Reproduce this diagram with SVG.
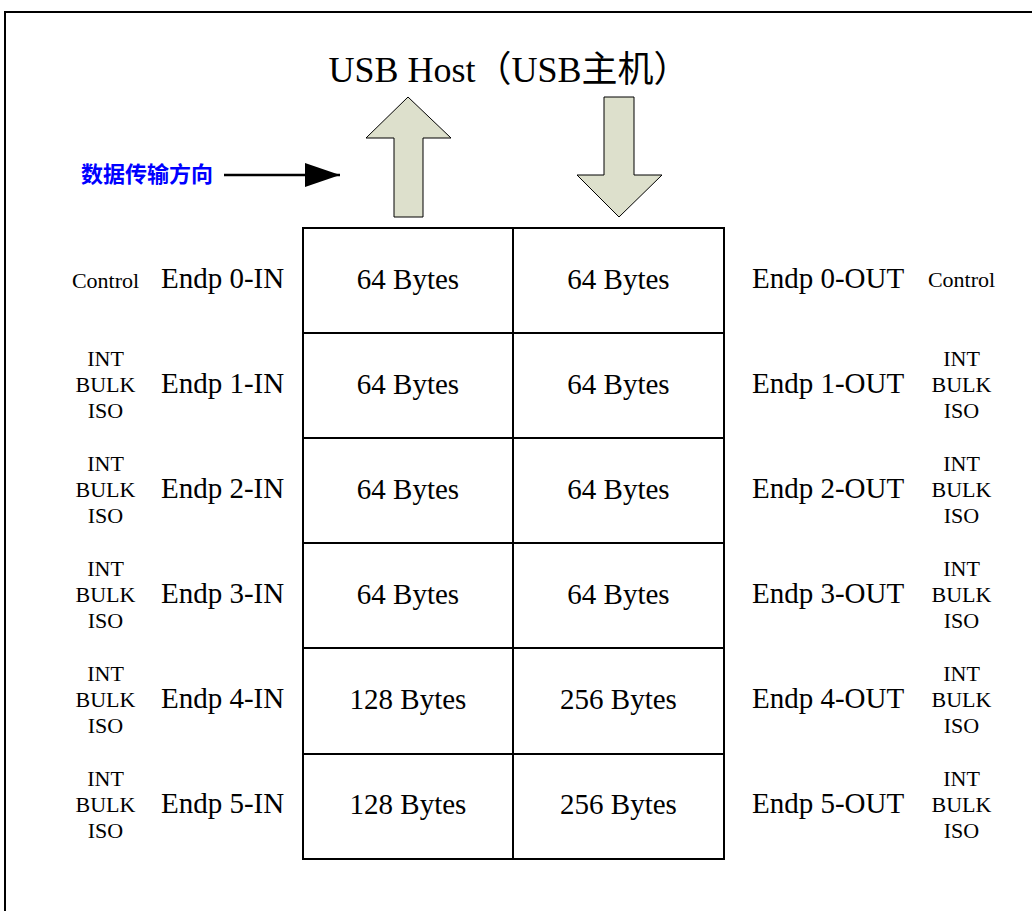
<svg xmlns="http://www.w3.org/2000/svg" width="1032" height="911" viewBox="0 0 1032 911">
<style>
.t{font-family:"Liberation Serif","Noto Sans CJK SC",serif;fill:#000}
.big{font-size:29px}
.sm{font-size:22px;text-anchor:middle}
.c{text-anchor:middle}
.cell{fill:#fff;stroke:#000;stroke-width:2}
.fat{fill:#dde0cc;stroke:#000;stroke-width:1}
</style>
<defs>
<marker id="ah" markerWidth="35" markerHeight="24" refX="35" refY="12" orient="auto" markerUnits="userSpaceOnUse">
<path d="M0,0 L35,12 L0,24 Z" fill="#000"/>
</marker>
</defs>
<rect width="1032" height="911" fill="#fff"/>
<path d="M5,911 V12 H1032" fill="none" stroke="#000" stroke-width="2"/>
<g id="title"><text class="t c" x="509" y="82" font-size="36">USB Host（USB主机）</text></g>
<g id="legend"><text x="81" y="182" font-family="'Noto Sans CJK SC',sans-serif" font-size="22" font-weight="bold" fill="#0000ff">数据传输方向</text></g>
<g id="connectors">
<line x1="224" y1="175" x2="340" y2="175" stroke="#000" stroke-width="2.5" marker-end="url(#ah)"/>
<path class="fat" d="M408,97 L451,138 L423,138 L423,217 L394,217 L394,138 L366,138 Z"/>
<path class="fat" d="M604,97 L634,97 L634,175 L662,175 L619,217 L577,175 L604,175 Z"/>
</g>
<g id="table">
<rect class="cell" x="303" y="228" width="421" height="631"/>
<path d="M513,228 V859 M303,333 H724 M303,438 H724 M303,543 H724 M303,648 H724 M303,754 H724" stroke="#000" stroke-width="2" fill="none"/>
</g>
<g id="row0">
<text class="t sm" x="105.5" y="288">Control</text>
<text class="t big" x="161" y="288">Endp 0-IN</text>
<text class="t big c" x="408" y="289">64 Bytes</text>
<text class="t big c" x="618.5" y="289">64 Bytes</text>
<text class="t big" x="752" y="288">Endp 0-OUT</text>
<text class="t sm" x="961.5" y="287">Control</text>
</g>
<g id="row1">
<text class="t sm" x="105.5" y="366">INT</text><text class="t sm" x="105.5" y="392">BULK</text><text class="t sm" x="105.5" y="418">ISO</text>
<text class="t big" x="161" y="393">Endp 1-IN</text>
<text class="t big c" x="408" y="394">64 Bytes</text>
<text class="t big c" x="618.5" y="394">64 Bytes</text>
<text class="t big" x="752" y="393">Endp 1-OUT</text>
<text class="t sm" x="961.5" y="366">INT</text><text class="t sm" x="961.5" y="392">BULK</text><text class="t sm" x="961.5" y="418">ISO</text>
</g>
<g id="row2">
<text class="t sm" x="105.5" y="471">INT</text><text class="t sm" x="105.5" y="497">BULK</text><text class="t sm" x="105.5" y="523">ISO</text>
<text class="t big" x="161" y="498">Endp 2-IN</text>
<text class="t big c" x="408" y="499">64 Bytes</text>
<text class="t big c" x="618.5" y="499">64 Bytes</text>
<text class="t big" x="752" y="498">Endp 2-OUT</text>
<text class="t sm" x="961.5" y="471">INT</text><text class="t sm" x="961.5" y="497">BULK</text><text class="t sm" x="961.5" y="523">ISO</text>
</g>
<g id="row3">
<text class="t sm" x="105.5" y="576">INT</text><text class="t sm" x="105.5" y="602">BULK</text><text class="t sm" x="105.5" y="628">ISO</text>
<text class="t big" x="161" y="603">Endp 3-IN</text>
<text class="t big c" x="408" y="604">64 Bytes</text>
<text class="t big c" x="618.5" y="604">64 Bytes</text>
<text class="t big" x="752" y="603">Endp 3-OUT</text>
<text class="t sm" x="961.5" y="576">INT</text><text class="t sm" x="961.5" y="602">BULK</text><text class="t sm" x="961.5" y="628">ISO</text>
</g>
<g id="row4">
<text class="t sm" x="105.5" y="681">INT</text><text class="t sm" x="105.5" y="707">BULK</text><text class="t sm" x="105.5" y="733">ISO</text>
<text class="t big" x="161" y="708">Endp 4-IN</text>
<text class="t big c" x="408" y="709">128 Bytes</text>
<text class="t big c" x="618.5" y="709">256 Bytes</text>
<text class="t big" x="752" y="708">Endp 4-OUT</text>
<text class="t sm" x="961.5" y="681">INT</text><text class="t sm" x="961.5" y="707">BULK</text><text class="t sm" x="961.5" y="733">ISO</text>
</g>
<g id="row5">
<text class="t sm" x="105.5" y="786">INT</text><text class="t sm" x="105.5" y="812">BULK</text><text class="t sm" x="105.5" y="838">ISO</text>
<text class="t big" x="161" y="813">Endp 5-IN</text>
<text class="t big c" x="408" y="814">128 Bytes</text>
<text class="t big c" x="618.5" y="814">256 Bytes</text>
<text class="t big" x="752" y="813">Endp 5-OUT</text>
<text class="t sm" x="961.5" y="786">INT</text><text class="t sm" x="961.5" y="812">BULK</text><text class="t sm" x="961.5" y="838">ISO</text>
</g>
</svg>
